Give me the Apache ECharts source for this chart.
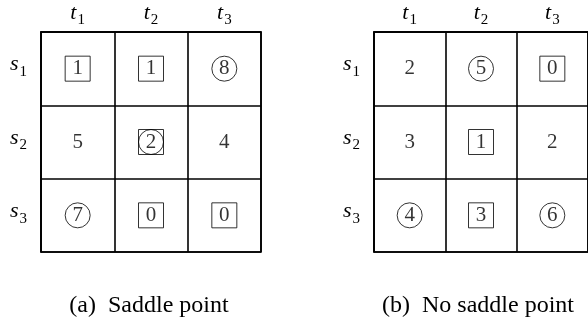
<!DOCTYPE html>
<html>
<head>
<meta charset="utf-8">
<script src="https://cdn.jsdelivr.net/npm/echarts@6/dist/echarts.min.js"></script>
<style>html,body{margin:0;padding:0;background:#fff}#c{width:588px;height:324px}</style>
</head>
<body>
<div id="c"></div>
<script>
// Column (player t) and row (player s) labels
var colLabels = ['t1', 't2', 't3'];
var rowLabels = ['s1', 's2', 's3'];

// (a) Saddle point: payoffs by row
var payoffA = [[1, 1, 8], [5, 2, 4], [7, 0, 0]];
// marks: 'b' = boxed, 'c' = circled, 'bc' = both, '' = none
var marksA = [['b', 'b', 'c'], ['', 'bc', ''], ['c', 'b', 'b']];

// (b) No saddle point
var payoffB = [[2, 5, 0], [3, 1, 2], [4, 3, 6]];
var marksB = [['', 'c', 'b'], ['', 'b', ''], ['c', 'b', 'c']];

var captions = ['(a)  Saddle point', '(b)  No saddle point'];

var SERIF = '"Liberation Serif", "DejaVu Serif", serif';

function subLabel(v) {
  return '{i|' + v.charAt(0) + '}{s|' + v.slice(1) + '}';
}
var richSub = {
  i: { fontFamily: SERIF, fontStyle: 'italic', fontSize: 22, color: '#000', verticalAlign: 'bottom', lineHeight: 22, padding: [0, 1, 4, 0] },
  s: { fontFamily: SERIF, fontSize: 15, color: '#000', verticalAlign: 'bottom', lineHeight: 16, padding: [0, 0, 0, 0] }
};

var lineStyle = { color: '#000', width: 1.6 };

function build(payoff, marks, gi) {
  var vals = [], boxes = [], circles = [];
  for (var r = 0; r < payoff.length; r++) {
    for (var c = 0; c < payoff[r].length; c++) {
      vals.push([c, r, payoff[r][c]]);
      if (marks[r][c].indexOf('b') >= 0) boxes.push([c, r]);
      if (marks[r][c].indexOf('c') >= 0) circles.push([c, r]);
    }
  }
  return [
    { type: 'scatter', xAxisIndex: gi, yAxisIndex: gi, data: boxes, symbol: 'rect', symbolSize: 25,
      itemStyle: { color: 'rgba(0,0,0,0)', borderColor: '#000', borderWidth: 1 }, silent: true, z: 3 },
    { type: 'scatter', xAxisIndex: gi, yAxisIndex: gi, data: circles, symbol: 'circle', symbolSize: 25,
      itemStyle: { color: 'rgba(0,0,0,0)', borderColor: '#000', borderWidth: 1 }, silent: true, z: 3 },
    { type: 'scatter', xAxisIndex: gi, yAxisIndex: gi, data: vals, symbolSize: 0, silent: true, z: 4,
      label: { show: true, position: 'inside', formatter: function (p) { return p.value[2]; },
        fontFamily: SERIF, fontSize: 21, color: '#000' } }
  ];
}

var lefts = [41, 374];
var grids = [], xAxes = [], yAxes = [];
lefts.forEach(function (l, i) {
  grids.push({ left: l, top: 32, width: 220, height: 220, show: true, borderColor: '#000', borderWidth: 1.6, backgroundColor: 'transparent' });
  xAxes.push({ type: 'category', gridIndex: i, data: colLabels, position: 'top',
    axisLine: { show: true, lineStyle: lineStyle }, axisTick: { show: false },
    splitLine: { show: true, lineStyle: lineStyle },
    axisLabel: { margin: 4, formatter: subLabel, rich: richSub } });
  yAxes.push({ type: 'category', gridIndex: i, data: rowLabels, inverse: true,
    axisLine: { show: true, lineStyle: lineStyle }, axisTick: { show: false },
    splitLine: { show: true, lineStyle: lineStyle },
    axisLabel: { margin: 14, formatter: subLabel, rich: richSub } });
});

var series = build(payoffA, marksA, 0).concat(build(payoffB, marksB, 1));

var chart = echarts.init(document.getElementById('c'), null, { renderer: 'canvas' });
chart.setOption({
  animation: false,
  backgroundColor: '#fff',
  grid: grids,
  xAxis: xAxes,
  yAxis: yAxes,
  series: series,
  graphic: [
    { type: 'text', x: 149, y: 306, style: { text: captions[0], fill: '#000', font: '24px ' + SERIF, textAlign: 'center', textVerticalAlign: 'middle' } },
    { type: 'text', x: 478, y: 306, style: { text: captions[1], fill: '#000', font: '24px ' + SERIF, textAlign: 'center', textVerticalAlign: 'middle' } }
  ]
});
</script>
</body>
</html>
